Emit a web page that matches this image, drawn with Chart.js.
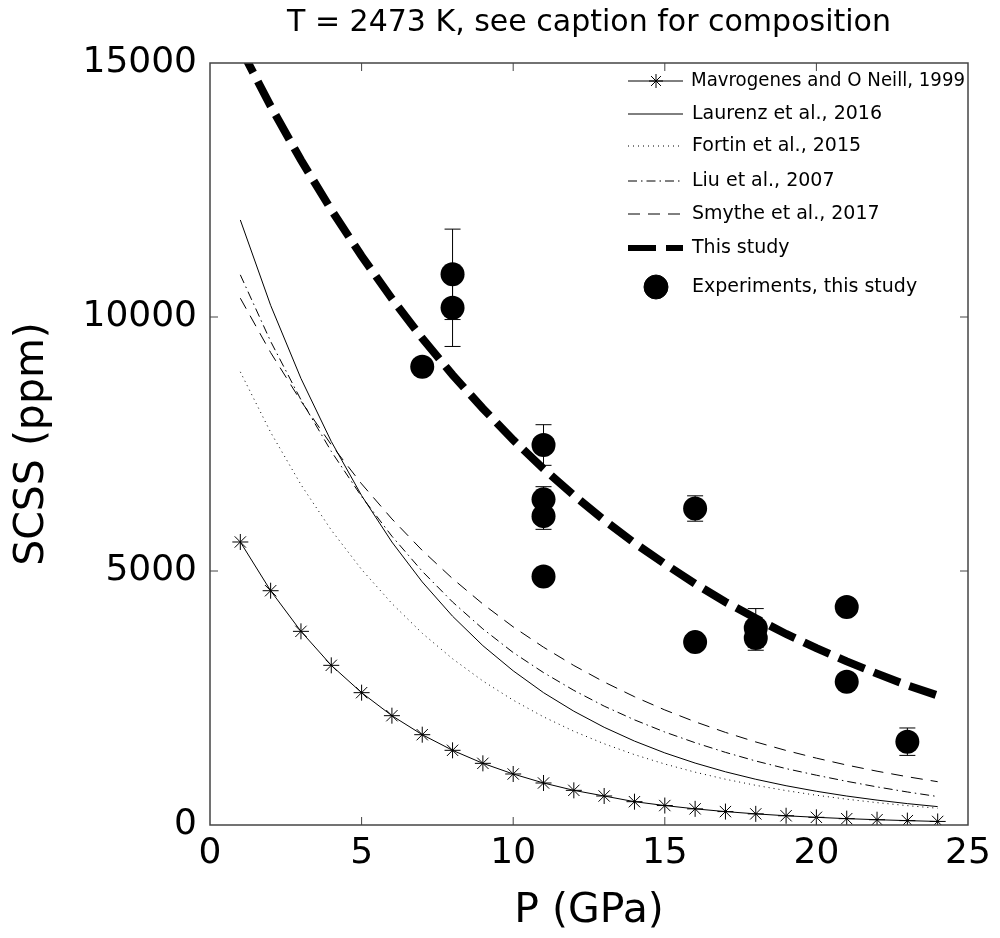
<!DOCTYPE html>
<html lang="en">
  <head>
    <title>SCSS vs P</title>
    <script src="https://cdn.jsdelivr.net/npm/chart.js@4.4.0/dist/chart.umd.min.js"></script>
    <style>
      body{
        margin: 0;
        background-color: #ffffff;
      }
      #wrap{
        width: 1000px;
        height: 938px;
      }
    </style>
  </head>
  <body>
    <div id="wrap">
      <canvas id="scssChart"></canvas>
    </div>
    <script>
      // pressure grid of the model curves (GPa)
      const pressure = [1, 2, 3, 4, 5, 6, 7, 8, 9, 10, 11, 12, 13, 14, 15, 16, 17, 18, 19, 20, 21, 22, 23, 24];

      // model curves, SCSS in ppm
      const mavrogenes = [5571, 4612, 3812, 3143, 2605, 2152, 1778, 1470, 1214, 1004, 827, 682, 571, 459, 383, 318, 264, 219, 182, 151, 125, 104, 86, 70];
      const laurenz = [11910, 10230, 8790, 7550, 6485, 5570, 4785, 4110, 3530, 3035, 2605, 2240, 1923, 1652, 1419, 1219, 1047, 900, 773, 664, 570, 490, 421, 362];
      const fortin = [8920, 7730, 6700, 5805, 5030, 4360, 3775, 3272, 2835, 2457, 2129, 1845, 1599, 1385, 1200, 1040, 901, 781, 677, 586, 508, 440, 381, 330];
      const liu = [10830, 9520, 8370, 7355, 6465, 5685, 4995, 4390, 3860, 3395, 3000, 2650, 2340, 2070, 1830, 1620, 1430, 1260, 1110, 980, 860, 750, 650, 560];
      const smythe = [10370, 9300, 8345, 7485, 6715, 6025, 5405, 4850, 4350, 3900, 3500, 3140, 2815, 2525, 2265, 2032, 1823, 1635, 1467, 1316, 1180, 1059, 950, 852];
      const thisStudy = [15300, 14150, 13090, 12110, 11200, 10360, 9580, 8860, 8200, 7580, 7010, 6490, 6000, 5550, 5140, 4750, 4390, 4070, 3760, 3480, 3220, 2980, 2750, 2550];

      // experiments of this study
      const expP = [7, 8, 8, 11, 11, 11, 11, 16, 16, 18, 18, 21, 21, 23];
      const expSCSS = [9020, 10840, 10180, 7480, 6410, 6080, 4890, 6230, 3600, 3880, 3680, 4290, 2820, 1640];
      const expErr = [0, 890, 760, 400, 250, 260, 0, 250, 0, 380, 240, 0, 0, 270];

      const xTicks = [0, 5, 10, 15, 20, 25];
      const yTicks = [0, 5000, 10000, 15000];

      const FONT = "'DejaVu Sans', Verdana, sans-serif";

      function toPoints(xs, ys) {
        return xs.map((x, i) => ({x: x, y: ys[i]}));
      }

      function curve(label, values, dash, width) {
        return {
          label: label,
          data: toPoints(pressure, values),
          showLine: true,
          borderColor: "#000",
          backgroundColor: "#000",
          borderWidth: width,
          borderDash: dash,
          pointRadius: 0,
          tension: 0
        };
      }

      // error bars under the experiment circles
      const errorBars = {
        id: "errorBars",
        beforeDatasetsDraw(chart) {
          const {ctx, scales: {x, y}} = chart;
          ctx.save();
          ctx.strokeStyle = "#000";
          ctx.lineWidth = 1;
          expP.forEach((p, i) => {
            if (!expErr[i]) return;
            const px = x.getPixelForValue(p);
            const top = y.getPixelForValue(expSCSS[i] + expErr[i]);
            const bot = y.getPixelForValue(expSCSS[i] - expErr[i]);
            ctx.beginPath();
            ctx.moveTo(px, top); ctx.lineTo(px, bot);
            ctx.moveTo(px - 8, top); ctx.lineTo(px + 8, top);
            ctx.moveTo(px - 8, bot); ctx.lineTo(px + 8, bot);
            ctx.stroke();
          });
          ctx.restore();
        }
      };

      // box, inward ticks and legend
      const frame = {
        id: "frame",
        afterDraw(chart) {
          const {ctx, chartArea: a, scales: {x, y}} = chart;
          ctx.save();
          ctx.strokeStyle = "#444";
          ctx.lineWidth = 1.5;
          ctx.strokeRect(a.left, a.top, a.right - a.left, a.bottom - a.top);
          ctx.lineWidth = 1;
          ctx.beginPath();
          xTicks.slice(1, -1).forEach(v => {
            const px = x.getPixelForValue(v);
            ctx.moveTo(px, a.bottom); ctx.lineTo(px, a.bottom - 8);
            ctx.moveTo(px, a.top); ctx.lineTo(px, a.top + 8);
          });
          yTicks.slice(1, -1).forEach(v => {
            const py = y.getPixelForValue(v);
            ctx.moveTo(a.left, py); ctx.lineTo(a.left + 8, py);
            ctx.moveTo(a.right, py); ctx.lineTo(a.right - 8, py);
          });
          ctx.stroke();

          // legend
          const rows = [81, 114, 146, 181, 214, 248, 287];
          ctx.font = "19px " + FONT;
          ctx.textBaseline = "middle";
          ctx.fillStyle = "#000";
          chart.data.datasets.forEach((ds, i) => {
            const ly = rows[i];
            ctx.save();
            if (ds.showLine) {
              ctx.strokeStyle = "#000";
              ctx.lineWidth = Math.min(ds.borderWidth, 6);
              ctx.setLineDash(ds.borderDash || []);
              ctx.beginPath();
              ctx.moveTo(628, ly); ctx.lineTo(683, ly);
              ctx.stroke();
            }
            ctx.restore();
            if (ds.pointRadius && ds.pointStyle) {
              ctx.save();
              ctx.strokeStyle = "#000";
              ctx.fillStyle = "#000";
              ctx.lineWidth = 1;
              Chart.helpers.drawPoint(ctx, {pointStyle: ds.pointStyle, radius: ds.pointStyle === "circle" ? 12 : 7, rotation: 0, borderWidth: 1}, 656, ly);
              ctx.restore();
            }
            const tx = i === 0 ? 691 : 692;
            ctx.fillText(ds.label, tx, ly, i === 0 ? 274 : 400);
          });
          ctx.restore();
        }
      };

      const ctx = document.getElementById("scssChart").getContext("2d");
      const scssChart = new Chart(ctx, {
        type: "scatter",
        data: {
          datasets: [
            Object.assign(curve("Mavrogenes and O Neill, 1999", mavrogenes, [], 1), {
              pointRadius: 8, pointStyle: "star", pointBorderWidth: 1, pointBorderColor: "#000"
            }),
            curve("Laurenz et al., 2016", laurenz, [], 1),
            curve("Fortin et al., 2015", fortin, [1, 4], 1),
            curve("Liu et al., 2007", liu, [9, 4, 1.5, 4], 1),
            curve("Smythe et al., 2017", smythe, [12, 8], 1),
            curve("This study", thisStudy, [28, 10], 8),
            {
              label: "Experiments, this study",
              data: toPoints(expP, expSCSS),
              showLine: false,
              pointStyle: "circle",
              pointRadius: 12,
              backgroundColor: "#000",
              borderColor: "#000",
              borderWidth: 0
            }
          ]
        },
        options: {
          responsive: true,
          maintainAspectRatio: false,
          animation: false,
          layout: {
            padding: {left: 0, right: 32, top: 0, bottom: 2}
          },
          plugins: {
            legend: {display: false},
            tooltip: {enabled: false},
            title: {
              display: true,
              fullSize: false,
              text: "T = 2473 K, see caption for composition",
              color: "#000",
              font: {family: FONT, size: 30, weight: "normal"},
              padding: {top: 5, bottom: 22}
            }
          },
          scales: {
            x: {
              type: "linear",
              min: 0,
              max: 25,
              afterBuildTicks: (s) => { s.ticks = xTicks.map(v => ({value: v})); },
              grid: {display: false, drawTicks: false},
              border: {display: false},
              ticks: {color: "#000", font: {family: FONT, size: 36}, padding: 7, callback: (v) => String(v)},
              title: {display: true, text: "P (GPa)", color: "#000", font: {family: FONT, size: 41}, padding: {top: 0, bottom: 0}},
              afterFit: (s) => { s.height = 111; }
            },
            y: {
              type: "linear",
              min: 0,
              max: 15000,
              afterBuildTicks: (s) => { s.ticks = yTicks.map(v => ({value: v})); },
              grid: {display: false, drawTicks: false},
              border: {display: false},
              ticks: {color: "#000", font: {family: FONT, size: 36}, padding: 13, callback: (v) => String(v)},
              title: {display: true, text: "SCSS (ppm)", color: "#000", font: {family: FONT, size: 41}, padding: {top: 8, bottom: 0}},
              afterFit: (s) => { s.width = 210; }
            }
          }
        },
        plugins: [errorBars, frame]
      });
    </script>
  </body>
</html>
